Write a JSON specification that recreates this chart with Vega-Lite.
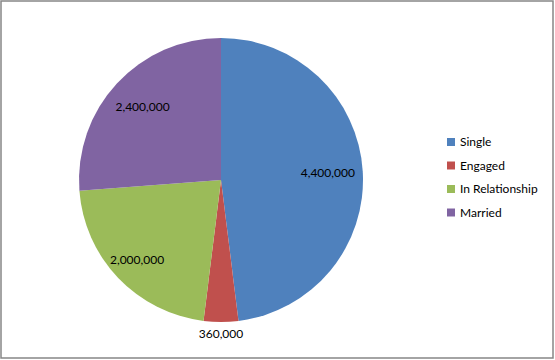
{
  "$schema": "https://vega.github.io/schema/vega-lite/v6.json",
  "width": 552,
  "height": 357,
  "padding": {"left": 1, "top": 1, "right": 2, "bottom": 2},
  "autosize": {"type": "none"},
  "background": "white",
  "config": {
    "view": {"stroke": null},
    "font": "Lato"
  },
  "data": {
    "values": [
      {"status": "Single", "count": 4400000, "rank": 1},
      {"status": "Engaged", "count": 360000, "rank": 2},
      {"status": "In Relationship", "count": 2000000, "rank": 3},
      {"status": "Married", "count": 2400000, "rank": 4}
    ]
  },
  "layer": [
    {
      "data": {"values": [{"frame": 1}]},
      "mark": {"type": "rect", "x": 0, "x2": "width", "y": 0, "y2": "height", "fill": null, "stroke": "#868686", "strokeWidth": 1.5},
      "encoding": {}
    },
    {
      "mark": {"type": "arc", "x": 220, "y": 179, "outerRadius": 142},
      "encoding": {
        "theta": {"field": "count", "type": "quantitative", "stack": true},
        "order": {"field": "rank", "type": "quantitative"},
        "color": {
          "field": "status",
          "type": "nominal",
          "scale": {
            "domain": ["Single", "Engaged", "In Relationship", "Married"],
            "range": ["#4F81BD", "#C0504D", "#9BBB59", "#8064A2"]
          },
          "legend": {
            "title": null,
            "orient": "none",
            "legendX": 444,
            "legendY": 135,
            "symbolType": "square",
            "symbolSize": 64,
            "symbolStrokeWidth": 0,
            "labelFontSize": 12,
            "labelFont": "Lato",
            "labelColor": "#000000",
            "rowPadding": 11.5,
            "labelOffset": 3
          }
        }
      }
    },
    {
      "mark": {"type": "text", "x": 220, "y": 179, "radius": 107, "fontSize": 12, "font": "Lato", "color": "#000000"},
      "encoding": {
        "theta": {"field": "count", "type": "quantitative", "stack": true},
        "order": {"field": "rank", "type": "quantitative"},
        "text": {
          "condition": {"test": "datum.status == 'Single' || datum.status == 'Married'", "field": "count", "type": "quantitative", "format": ","},
          "value": ""
        }
      }
    },
    {
      "mark": {"type": "text", "x": 220, "y": 179, "radius": 116, "fontSize": 12, "font": "Lato", "color": "#000000"},
      "encoding": {
        "theta": {"field": "count", "type": "quantitative", "stack": true},
        "order": {"field": "rank", "type": "quantitative"},
        "text": {
          "condition": {"test": "datum.status == 'In Relationship'", "field": "count", "type": "quantitative", "format": ","},
          "value": ""
        }
      }
    },
    {
      "mark": {"type": "text", "x": 220, "y": 179, "radius": 154, "fontSize": 12, "font": "Lato", "color": "#000000"},
      "encoding": {
        "theta": {"field": "count", "type": "quantitative", "stack": true},
        "order": {"field": "rank", "type": "quantitative"},
        "text": {
          "condition": {"test": "datum.status == 'Engaged'", "field": "count", "type": "quantitative", "format": ","},
          "value": ""
        }
      }
    }
  ]
}
